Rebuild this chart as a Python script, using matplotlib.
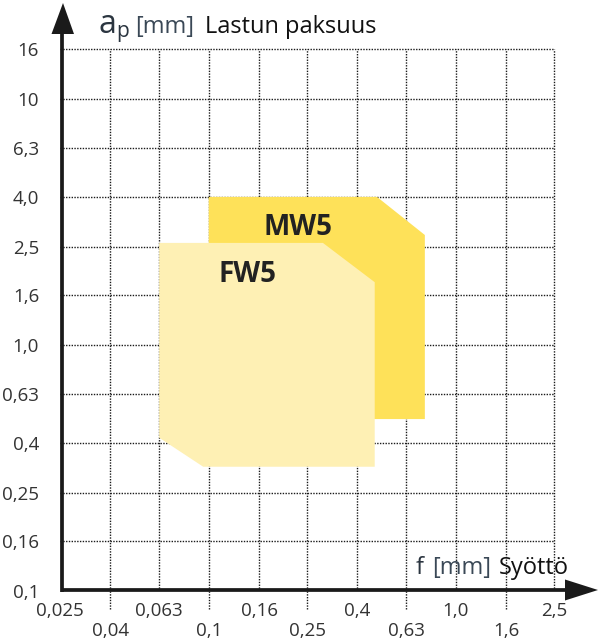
import matplotlib
matplotlib.use("Agg")
import matplotlib.pyplot as plt
from matplotlib.patches import Polygon

plt.rcParams['font.family'] = ['Open Sans', 'DejaVu Sans']

# tick values and labels (comma decimals as in the original)
x_ticks = [0.025, 0.04, 0.063, 0.1, 0.16, 0.25, 0.4, 0.63, 1.0, 1.6, 2.5]
x_labels = ['0,025', '0,04', '0,063', '0,1', '0,16', '0,25', '0,4', '0,63', '1,0', '1,6', '2,5']
y_ticks = [0.1, 0.16, 0.25, 0.4, 0.63, 1.0, 1.6, 2.5, 4.0, 6.3, 10, 16]
y_labels = ['0,1', '0,16', '0,25', '0,4', '0,63', '1,0', '1,6', '2,5', '4,0', '6,3', '10', '16']

# application areas (feed f, depth a_p)
mw5_f = [0.1, 0.48, 0.75, 0.75, 0.1]
mw5_ap = [4.0, 4.0, 2.8, 0.5, 0.5]
fw5_f = [0.063, 0.29, 0.47, 0.47, 0.095, 0.063]
fw5_ap = [2.6, 2.6, 1.8, 0.32, 0.32, 0.42]

areas = ['MW5', 'FW5']
label_pos = [(0.23, 3.0), (0.143, 1.94)]
colors = ['#FEE159', '#FEF0B4']

dark = '#222222'
axis_col = '#1a1a1a'

fig = plt.figure(figsize=(6, 6.4), dpi=100)
ax = fig.add_axes([60 / 600, 49 / 640, 540 / 600, 591 / 640])
ax.set_xscale('log')
ax.set_yscale('log')
ax.set_xlim(0.025, 0.025 * 10 ** (0.2 * 540 / 49.4))
ax.set_ylim(0.1, 0.1 * 10 ** (0.2 * 591 / 49.2))
for s in ax.spines.values():
    s.set_visible(False)

# dotted grid
dot = dict(color=axis_col, lw=1.0, linestyles=(0, (1, 1)), zorder=1)
ax.vlines(x_ticks[1:], y_ticks[0], y_ticks[-1], **dot)
ax.hlines(y_ticks[1:], x_ticks[0], x_ticks[-1], **dot)
# leader lines for the lower row of labels
ax.vlines(x_ticks[1::2], -18 / 591, 0, transform=ax.get_xaxis_transform(),
          clip_on=False, **dot)

# areas
for f, ap, c in zip([mw5_f, fw5_f], [mw5_ap, fw5_ap], colors):
    ax.add_patch(Polygon(list(zip(f, ap)), closed=True, facecolor=c,
                         edgecolor='none', zorder=2))
for name, (lx, ly) in zip(areas, label_pos):
    ax.text(lx, ly, name, ha='center', va='center', fontsize=20,
            fontweight='bold', color=dark, zorder=3)

# tick labels: alternate rows
ax.set_xticks(x_ticks[0::2], x_labels[0::2])
ax.set_xticks(x_ticks[1::2], x_labels[1::2], minor=True)
ax.set_yticks(y_ticks, y_labels)
ax.yaxis.set_minor_locator(matplotlib.ticker.NullLocator())
lab = dict(length=0, labelsize=13.5, labelcolor='#333333')
ax.tick_params(axis='x', which='major', pad=8, **lab)
ax.tick_params(axis='x', which='minor', pad=22.5, **lab)
ax.tick_params(axis='y', which='both', pad=15, **lab)

# overlay in pixel coordinates for the arrows and axis titles
ov = fig.add_axes([0, 0, 1, 1], facecolor='none')
ov.set_xlim(0, 600)
ov.set_ylim(640, 0)
ov.axis('off')

ov.plot([62, 62], [592, 30], color=axis_col, lw=2.7, solid_capstyle='butt')
ov.plot([60.5, 568], [590, 590], color=axis_col, lw=2.7, solid_capstyle='butt')
ov.add_patch(Polygon([(51.5, 34), (74, 34), (63, 3)], closed=True,
                     facecolor=axis_col, edgecolor='none'))
ov.add_patch(Polygon([(565, 579.5), (565, 600.5), (598, 590)], closed=True,
                     facecolor=axis_col, edgecolor='none'))

# axis titles
ov.text(99, 33, 'a', fontsize=23, color='#2b3540', va='baseline')
ov.text(116.5, 37, 'p', fontsize=15, color='#2b3540', va='baseline')
ov.text(135, 33, '[mm]', fontsize=17, color='#3a4856', va='baseline')
ov.text(205, 33, 'Lastun paksuus', fontsize=17, color='#111111', va='baseline')

ov.text(569, 574, 'Syöttö', fontsize=17, color='#111111', va='baseline', ha='right')
ov.text(416, 574, 'f', fontsize=17, color='#2b3540', va='baseline')
ov.text(432, 574, '[mm]', fontsize=17, color='#3a4856', va='baseline')

fig.savefig('out.png', dpi=100)
